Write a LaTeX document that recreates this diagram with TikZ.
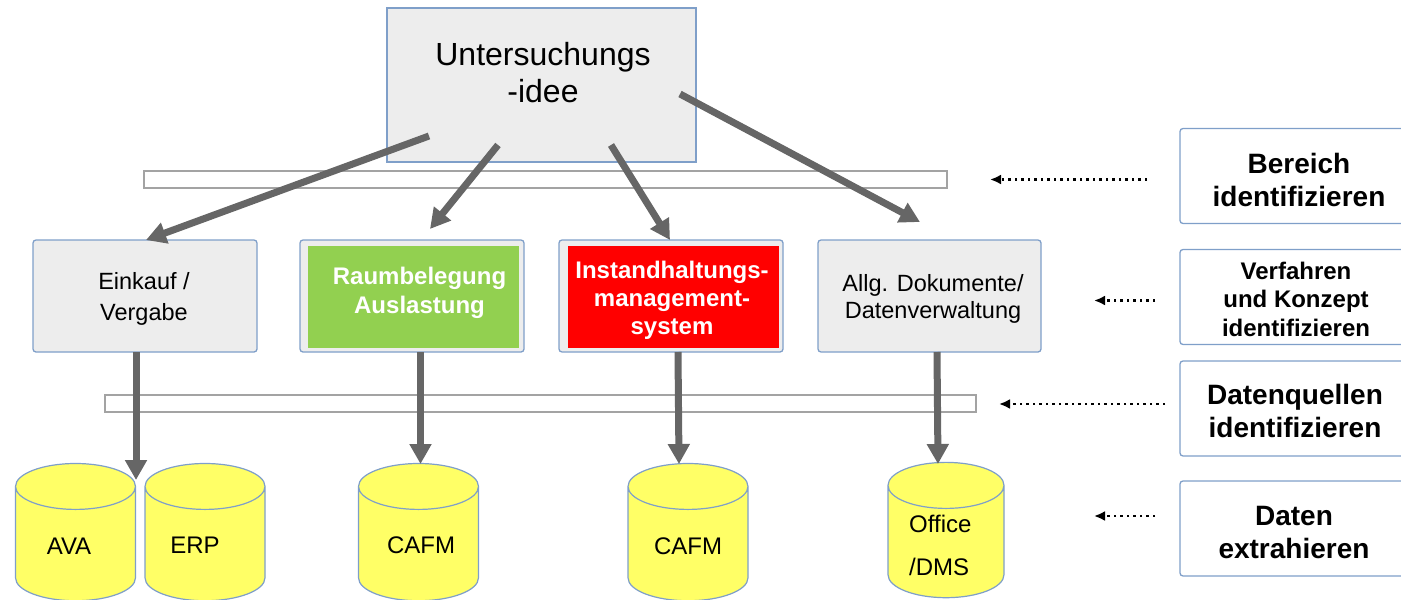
\documentclass[tikz,border=0pt]{standalone}
\usepackage{fontspec}
\setmainfont{Liberation Sans}
\usetikzlibrary{calc,positioning,arrows.meta,shapes.geometric}
\definecolor{boxline}{HTML}{7F9FC9}
\definecolor{boxfill}{HTML}{EDEDED}
\definecolor{barline}{HTML}{A3A3A3}
\definecolor{flowgray}{HTML}{666666}
\definecolor{dbyellow}{HTML}{FFFF66}
\definecolor{raumgreen}{HTML}{92D050}
\tikzset{
	rootbox/.style={draw=boxline, fill=boxfill, line width=1.3pt, minimum width=309pt, minimum height=154pt, align=center, inner sep=0pt, font=\fontsize{32}{37}\selectfont},
	areabox/.style={draw=boxline, fill=boxfill, line width=1.3pt, rounded corners=3pt, minimum width=224pt, minimum height=112pt, align=center, inner sep=0pt, font=\fontsize{23.5}{29}\selectfont},
	stepbox/.style={draw=boxline, fill=white, line width=1.3pt, rounded corners=3pt, minimum width=260pt, minimum height=95pt, align=center, inner sep=0pt},
	steptext/.style={align=center, inner sep=0pt, font=\fontsize{28}{33}\selectfont\bfseries},
	colorbox/.style={minimum width=211pt, minimum height=102pt, inner sep=0pt, align=center, text=white, font=\fontsize{24}{28}\selectfont\bfseries},
	barbox/.style={draw=barline, fill=white, line width=1.6pt, minimum height=17pt, inner sep=0pt},
	database/.style={draw=boxline, fill=dbyellow, line width=1.2pt, shape=cylinder, shape border rotate=90, aspect=0.51, minimum width=120pt, inner sep=45pt},
	dbtext/.style={inner sep=0pt, align=left, font=\fontsize{24}{43}\selectfont},
	flow/.style={flowgray, line width=7pt, -{Triangle[length=20pt,width=21pt]}},
	hint/.style={black, line width=2.4pt, dash pattern=on 2.2pt off 4.3pt, -{Latex[length=11pt,width=10pt]}},
}
\begin{document}
\begin{tikzpicture}[x=1pt,y=-1pt]
	\useasboundingbox (0,0) rectangle (1401,600);
	\clip (0,0) rectangle (1401,600);

	\node[rootbox] (idee) at (541.5,85) {};
	\node[inner sep=0pt, align=center, font=\fontsize{32}{37}\selectfont] (ideetext) at (543,73) {Untersuchungs\\-idee};

	\node[barbox, minimum width=803pt] (barbereich) at (545.5,179.5) {};
	\node[barbox, minimum width=871pt] (barquellen) at (540.5,403.5) {};

	\node[areabox] (einkauf) at (145,296) {};
	\node[areabox] (raum) at (412,296) {};
	\node[areabox] (instand) at (671,296) {};
	\node[areabox, minimum width=223pt] (dokumente) at (929.5,296) {};

	\node[inner sep=0pt, align=center, font=\fontsize{23.5}{31}\selectfont] (einkauftext) at (144,299) {Einkauf /\\Vergabe};
	\node[inner sep=0pt, align=center, font=\fontsize{23.5}{27}\selectfont] (dokumentetext) at (933,299) {Allg. Dokumente/\\Datenverwaltung};

	\node[colorbox, fill=raumgreen] (raumfill) at (413.5,297) {};
	\node[colorbox, font=\fontsize{24}{29}\selectfont\bfseries] (raumtext) at (419.5,293) {Raumbelegung\\Auslastung};
	\node[colorbox, fill=red] (instandfill) at (673,297) {};
	\node[colorbox] (instandtext) at (672,300) {Instandhaltungs-\\management-\\system};

	\node[database] (ava) at (75.5,555) {};
	\node[database] (erp) at (205,555) {};
	\node[database] (cafma) at (418.5,555) {};
	\node[database] (cafmb) at (688,555) {};
	\node[database, minimum width=116pt, inner sep=44pt, aspect=0.523] (office) at (946,553) {};

	\node[dbtext] (avatext) at (69,546) {AVA};
	\node[dbtext] (erptext) at (195,545) {ERP};
	\node[dbtext] (cafmatext) at (421,545) {CAFM};
	\node[dbtext] (cafmbtext) at (688,546) {CAFM};
	\node[dbtext, anchor=west] (officetext) at (909,545) {Office\\/DMS};

	\node[stepbox] (bereich) at (1310,176) {};
	\node[stepbox] (verfahren) at (1310,297) {};
	\node[stepbox] (quellen) at (1310,408.5) {};
	\node[stepbox] (daten) at (1310,528.5) {};

	\node[steptext] (bereichtext) at (1299,180) {Bereich\\identifizieren};
	\node[steptext, font=\fontsize{24}{28.5}\selectfont\bfseries] (verfahrentext) at (1296,299) {Verfahren\\und Konzept\\identifizieren};
	\node[steptext] (quellentext) at (1295,411) {Datenquellen\\identifizieren};
	\node[steptext] (datentext) at (1294,532) {Daten\\extrahieren};

	% Pfeile aus der Idee
	\coordinate (ideea) at (429,136);
	\coordinate (ideeb) at (498,145);
	\coordinate (ideec) at (611,145);
	\coordinate (ideed) at (680,94);
	\coordinate (einkauftip) at (146,240);
	\coordinate (raumtip) at (430,229);
	\coordinate (instandtip) at (670,240);
	\coordinate (dokumentetip) at (920,222);
	\draw[flow] (ideea) -- (einkauftip);
	\draw[flow] (ideeb) -- (raumtip);
	\draw[flow] (ideec) -- (instandtip);
	\draw[flow] (ideed) -- (dokumentetip);

	\coordinate (einkaufout) at (136,352);
	\coordinate (raumout) at (420.5,352);
	\coordinate (instandout) at (678,352);
	\coordinate (dokumenteout) at (937,352);
	\coordinate (avatip) at (136,480);
	\coordinate (cafmatip) at (420.5,464);
	\coordinate (cafmbtip) at (679,464);
	\coordinate (officetip) at (938,464);
	\draw[flow] (einkaufout) -- (avatip);
	\draw[flow] (raumout) -- (cafmatip);
	\draw[flow] (instandout) -- (cafmbtip);
	\draw[flow] (dokumenteout) -- (officetip);

	% gepunktete Hinweise
	\coordinate (hinta) at (1147,179.5);
	\coordinate (hintb) at (1155,300.5);
	\coordinate (hintc) at (1165,404);
	\coordinate (hintd) at (1155,516);
	\coordinate (hintaend) at (990,179.5);
	\coordinate (hintbend) at (1094,300.5);
	\coordinate (hintcend) at (999,404);
	\coordinate (hintdend) at (1094,516);
	\draw[hint] (hinta) -- (hintaend);
	\draw[hint] (hintb) -- (hintbend);
	\draw[hint] (hintc) -- (hintcend);
	\draw[hint] (hintd) -- (hintdend);
\end{tikzpicture}
\end{document}
